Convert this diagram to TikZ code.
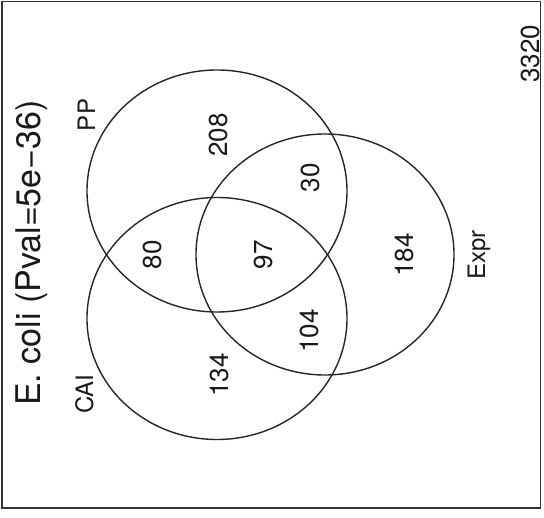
\documentclass[tikz,border=0pt]{standalone}
\usepackage{fontspec}
\setmainfont{TeX Gyre Heros}
\begin{document}
\begin{tikzpicture}[x=1pt,y=-1pt,
  venn/.style={draw=black!85, line width=1.4pt},
  frame/.style={draw=black!80, line width=1.8pt},
  txt/.style={rotate=90, anchor=base, inner sep=0pt, text=black!90},
  num/.style={txt, font=\fontsize{26}{30}\selectfont},
  setlbl/.style={txt, font=\fontsize{24}{28}\selectfont},
  ttl/.style={txt, font=\fontsize{34}{40}\selectfont}]
\useasboundingbox (0,0) rectangle (544,518);
\draw[frame] (2,1.5) rectangle (540.5,508);
% circles
\draw[venn] (217,191) ellipse [x radius=130, y radius=121];
\draw[venn] (217,318.5) ellipse [x radius=130, y radius=121];
\draw[venn] (325,254.5) ellipse [x radius=129, y radius=120.5];
% title and labels
\node[ttl] (title) at (40,253) {E. coli (Pval=5e\textminus36)};
\node[setlbl] (pp) at (95,115) {PP};
\node[setlbl] (cai) at (93,394) {CAI};
\node[setlbl] (expr) at (485,255) {Expr};
\node[num] (total) at (539,54) {3320};
% region counts
\node[num] (n208) at (227,135) {208};
\node[num] (n30) at (319,178) {30};
\node[num] (n80) at (161,255) {80};
\node[num] (n97) at (272,255) {97};
\node[num] (n184) at (413,255) {184};
\node[num] (n104) at (318,331) {104};
\node[num] (n134) at (228.5,375) {134};
\end{tikzpicture}
\end{document}
